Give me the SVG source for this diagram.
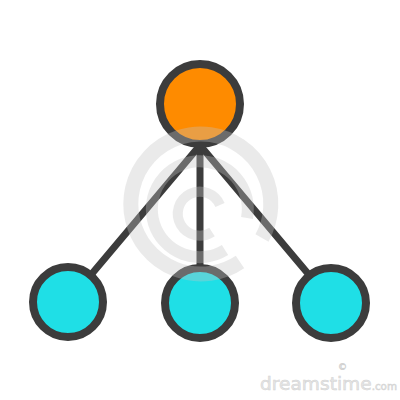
<svg xmlns="http://www.w3.org/2000/svg" width="400" height="400" viewBox="0 0 400 400">
<style>
.edge{stroke:#3c3c3c;stroke-width:7;stroke-linecap:round;fill:none}
.node{stroke:#3c3c3c;stroke-width:8}
.root{fill:#fe8b00}
.leaf{fill:#1fdfe6}
.wm{fill:none;stroke:#c4c4c4;stroke-opacity:0.35}
.wmt{font-family:"DejaVu Sans",sans-serif;fill:#e6e6e6;stroke:#d2d2d2;stroke-width:0.5}
</style>
<rect width="400" height="400" fill="#ffffff"/>
<g id="connectors">
<line class="edge" x1="196" y1="150" x2="90" y2="276"/>
<line class="edge" x1="200" y1="150" x2="200" y2="266"/>
<line class="edge" x1="204" y1="150" x2="310" y2="276"/>
</g>
<g id="node-root"><circle class="node root" cx="200" cy="104" r="40"/></g>
<g id="node-left"><circle class="node leaf" cx="68" cy="302" r="35"/></g>
<g id="node-middle"><circle class="node leaf" cx="200" cy="303" r="35"/></g>
<g id="node-right"><circle class="node leaf" cx="331" cy="303" r="35"/></g>
<g id="watermark">
<path class="wm" stroke-width="15" d="M 240 262 A 70 70 0 1 1 262 238"/>
<path class="wm" stroke-width="12" d="M 225 250 A 48 48 0 1 1 247 218"/>
<path class="wm" stroke-width="10" d="M 212 232 A 22 22 0 1 1 220 205"/>
<text class="wmt" x="260" y="390" font-size="18" textLength="137" lengthAdjust="spacingAndGlyphs">dreamstime<tspan font-size="10">.com</tspan></text>
<text class="wmt" x="338" y="370" font-size="9">©</text>
</g>
</svg>
